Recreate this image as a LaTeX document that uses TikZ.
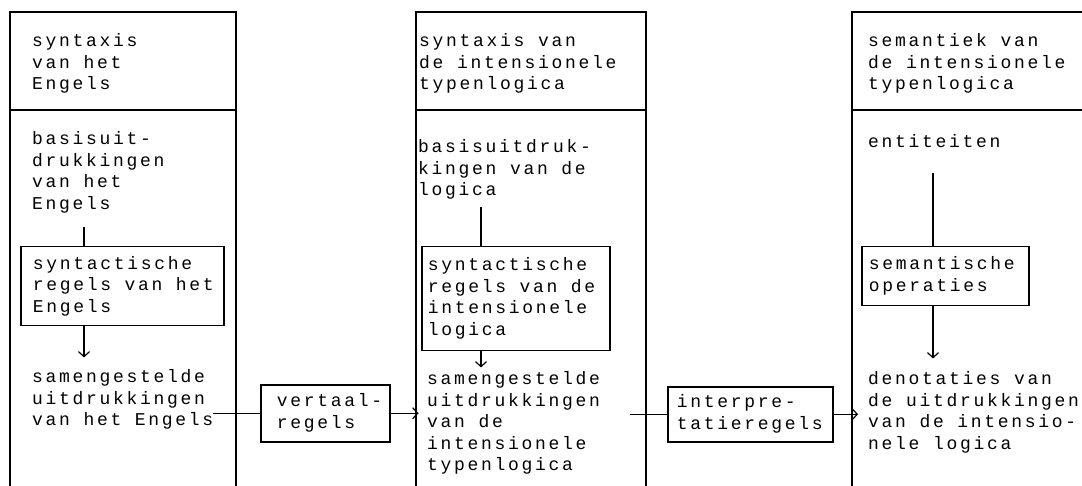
\documentclass[tikz,border=0pt]{standalone}
\usepackage{fontspec}
\usetikzlibrary{arrows.meta}
\newfontfamily\typewriter[LetterSpace=15]{Liberation Mono}
% fixed-width word gap: one character cell of the letter-spaced face
\newcommand{\gap}{\hspace*{0.75em}}
\newcommand{\ruletext}[1]{\begin{tabular}{@{}l@{}}#1\end{tabular}}

\tikzset{
  typed/.style={font={\typewriter\fontsize{18}{21.5}\selectfont}},
  % free text block: placed by the baseline of its first line
  txt/.style={typed, align=left, inner sep=0pt, anchor=north west, yshift=15.05pt},
  % framed rule box with left-aligned text, vertically centred
  rulebox/.style={typed, draw, line width=1.5pt, align=left, anchor=north west,
    inner ysep=0pt, inner xsep=#1},
  rulebox/.default=10pt,
  frame/.style={line width=1.25pt},
  conn/.style={line width=1.2pt},
  arr/.style={conn, -{Straight Barb[length=5pt,width=11pt]}}
}

\begin{document}
\begin{tikzpicture}[x=1pt, y=-1pt]
  \fill[white] (0,0) rectangle (1082,486);
  \useasboundingbox (0,0) rectangle (1082,486);

  % three open-bottomed columns with header rows
  \draw[frame] (10,486) -- (10,12) -- (236,12) -- (236,486);
  \draw[frame] (10,110) -- (236,110);
  \draw[frame] (416,486) -- (416,12) -- (646,12) -- (646,486);
  \draw[frame] (416,110) -- (646,110);
  \draw[frame] (852,486) -- (852,12) -- (1082,12);
  \draw[frame] (852,110) -- (1082,110);

  % column headers
  \node[txt] (head1) at (32,46.5) {\strut syntaxis\\van het\\Engels};
  \node[txt] (head2) at (419,46.5) {\strut syntaxis van\\de intensionele\\typenlogica};
  \node[txt] (head3) at (868,46.5) {\strut semantiek van\\de intensionele\\typenlogica};

  % basic expressions
  \node[txt] (basis1) at (32,144.5) {\strut basisuit-\\drukkingen\\van het\\Engels};
  \node[txt] (basis2) at (418,152.5) {\strut basisuitdruk-\\kingen van de\\logica};
  \node[txt] (basis3) at (868,147.5) {\strut entiteiten};

  % rule boxes
  \node[rulebox=12pt, text width=179pt, minimum width=203pt, minimum height=79pt]
    (rules1) at (20,246) {\ruletext{syntactische\\regels\gap van\gap het\\Engels}};
  \node[rulebox=6pt, text width=176pt, minimum width=188pt, minimum height=104pt]
    (rules2) at (421,246) {\ruletext{syntactische\\regels\gap van\gap de\\intensionele\\logica}};
  \node[rulebox=7pt, text width=153pt, minimum width=167pt, minimum height=59pt]
    (rules3) at (861,246) {\ruletext{semantische\\operaties}};

  % compound expressions
  \node[txt] (comp1) at (32,382.5) {\strut samengestelde\\uitdrukkingen\\van het Engels};
  \node[txt] (comp2) at (427,384.5) {\strut samengestelde\\uitdrukkingen\\van de\\intensionele\\typenlogica};
  \node[txt] (comp3) at (868,384.5) {\strut denotaties van\\de uitdrukkingen\\van de intensio-\\nele logica};

  % translation and interpretation rules
  \node[rulebox=16pt, text width=97pt, minimum width=129pt, minimum height=57pt]
    (vert) at (260,384) {\ruletext{vertaal-\\regels}};
  \node[rulebox=9pt, text width=147pt, minimum width=165pt, minimum height=55pt]
    (interp) at (667,386) {\ruletext{interpre-\\tatieregels}};

  % vertical connectors inside the columns
  \coordinate (s1) at (84,227);
  \coordinate (s2) at (481,207);
  \coordinate (s3) at (933,173);
  \draw[conn] (s1) -- (s1 |- rules1.north);
  \draw[arr, shorten >=10pt] (s1 |- rules1.south) -- (s1 |- comp1.north);
  \draw[conn] (s2) -- (s2 |- rules2.north);
  \draw[arr, shorten >=2pt] (s2 |- rules2.south) -- (s2 |- comp2.north);
  \draw[conn] (s3) -- (s3 |- rules3.north);
  \draw[arr, shorten >=11pt] (s3 |- rules3.south) -- (s3 |- comp3.north);

  % horizontal connectors between the columns
  \draw[conn] (comp1.east |- vert.west) -- (vert.west);
  \draw[arr, shorten >=8.5pt] (vert.east) -- (vert.east -| comp2.west);
  \coordinate (i0) at (630,0);
  \draw[conn] (i0 |- interp.west) -- (interp.west);
  \draw[arr, shorten >=10pt] (interp.east) -- (interp.east -| comp3.west);
\end{tikzpicture}
\end{document}
